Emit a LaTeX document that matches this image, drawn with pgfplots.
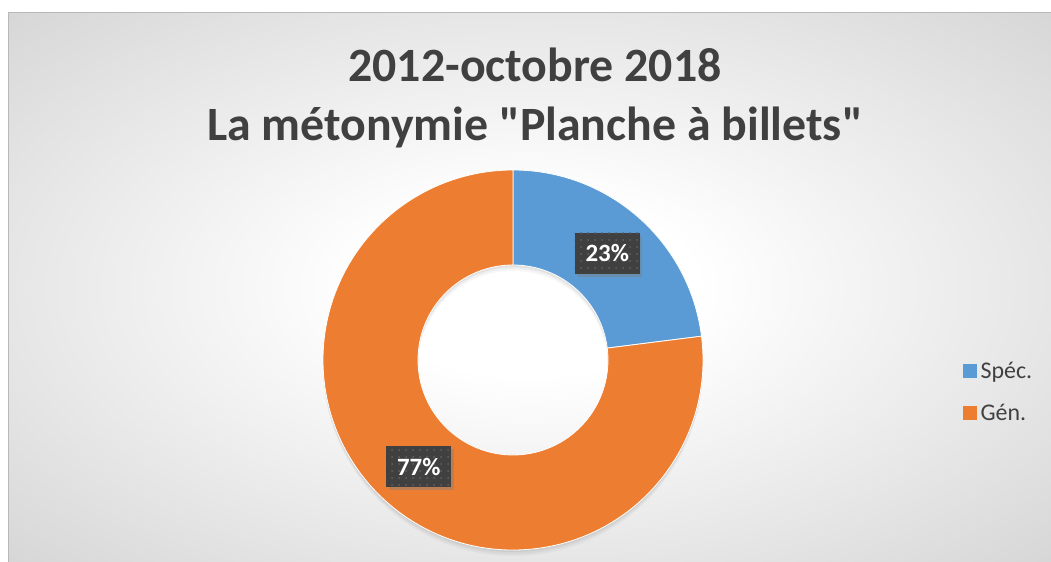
\documentclass[border=0pt]{standalone}
\usepackage{pgfplots}
\pgfplotsset{compat=1.18}
\usepackage{pgfplotstable}
\usepackage{fontspec}
\setmainfont{Carlito}
\usetikzlibrary{calc,shadows,patterns.meta}
\definecolor{cblue}{HTML}{5B9BD5}
\definecolor{corange}{HTML}{ED7D31}
\definecolor{ctext}{HTML}{404040}
\definecolor{clab}{HTML}{404040}
\pgfdeclareradialshading{bgshade}{\pgfpoint{0bp}{0bp}}{color(0bp)=(white); color(8bp)=(white); color(46bp)=(black!22); color(72bp)=(black!25)}

\pgfplotstableread{
label val
Spec 23
Gen 77
}\datatable
\pgfplotstablegetelem{0}{val}\of\datatable \let\va\pgfplotsretval
\pgfplotstablegetelem{1}{val}\of\datatable \let\vb\pgfplotsretval
\pgfmathsetmacro\tot{\va+\vb}
\pgfmathsetmacro\fa{\va/\tot}
\pgfmathsetmacro\fb{\vb/\tot}
\pgfmathsetmacro\aA{90}
\pgfmathsetmacro\aB{90-360*\fa}
\pgfmathsetmacro\aC{\aB-360*\fb}
\pgfmathsetmacro\mA{(\aA+\aB)/2}
\pgfmathsetmacro\mB{(\aB+\aC)/2}
\pgfmathtruncatemacro\pA{round(100*\fa)}
\pgfmathtruncatemacro\pB{round(100*\fb)}
\def\cx{513}\def\cy{202}
\def\Ro{190}\def\Ri{95}\def\Rm{142.5}

\begin{document}%
\begin{tikzpicture}
\begin{axis}[x=1bp,y=1bp,xmin=0,xmax=1051,ymin=0,ymax=562,hide axis,clip=false,
  at={(0,0)},anchor=south west,
  legend style={at={(axis cs:960,170)},anchor=west,draw=none,fill=none,
    font=\fontsize{24}{29}\selectfont,text=ctext,row sep=20bp,
    /tikz/every odd column/.append style={column sep=2bp}},
  legend cell align=left]
\path[fill=white] (axis cs:0,0) rectangle (axis cs:1051,562);
\shade[shading=bgshade] (axis cs:8,0) rectangle (axis cs:1051,549);
\draw[black!28,line width=1bp] (axis cs:8,0) -- (axis cs:8,549) -- (axis cs:1051,549);
\node[align=center,text=ctext,font=\bfseries\fontsize{48}{59}\selectfont] at (axis cs:535,464)
  {2012-octobre 2018\\La métonymie \textquotedbl Planche à billets\textquotedbl};
% donut shadow
\fill[black,opacity=0.05,even odd rule] (axis cs:513,200) circle[radius=190bp] (axis cs:513,200) circle[radius=95bp];
\fill[black,opacity=0.04,even odd rule] (axis cs:513,198) circle[radius=190bp] (axis cs:513,198) circle[radius=95bp];
\fill[black,opacity=0.03,even odd rule] (axis cs:513,196) circle[radius=190bp] (axis cs:513,196) circle[radius=95bp];
% sectors
\fill[cblue,draw=white,line width=0.8bp] (axis cs:\cx,\cy) ++(\aA:\Ro bp) arc[start angle=\aA,end angle=\aB,radius=\Ro bp]
  -- ($(axis cs:\cx,\cy)+(\aB:\Ri bp)$) arc[start angle=\aB,end angle=\aA,radius=\Ri bp] -- cycle;
\fill[corange,draw=white,line width=0.8bp] (axis cs:\cx,\cy) ++(\aB:\Ro bp) arc[start angle=\aB,end angle=\aC,radius=\Ro bp]
  -- ($(axis cs:\cx,\cy)+(\aC:\Ri bp)$) arc[start angle=\aC,end angle=\aB,radius=\Ri bp] -- cycle;
% labels
\node[fill=clab,text=white,minimum width=65bp,minimum height=41bp,inner sep=0pt,
  font=\bfseries\fontsize{25}{29}\selectfont,
  drop shadow={shadow xshift=2.5bp,shadow yshift=-3bp,opacity=0.45},
  postaction={pattern={Dots[distance=7bp,radius=1bp]},pattern color=black!62}]
  at ($(axis cs:\cx,\cy)+(\mA:\Rm bp)$) {\pA\%};
\node[fill=clab,text=white,minimum width=65bp,minimum height=41bp,inner sep=0pt,
  font=\bfseries\fontsize{25}{29}\selectfont,
  drop shadow={shadow xshift=2.5bp,shadow yshift=-3bp,opacity=0.45},
  postaction={pattern={Dots[distance=7bp,radius=1bp]},pattern color=black!62}]
  at ($(axis cs:\cx,\cy)+(\mB:\Rm bp)$) {\pB\%};
\addlegendimage{legend image code/.code={\fill[cblue] (0bp,-6.5bp) rectangle (13bp,6.5bp);}}
\addlegendimage{legend image code/.code={\fill[corange] (0bp,-6.5bp) rectangle (13bp,6.5bp);}}
\legend{Spéc.,Gén.}
\end{axis}
\pgfresetboundingbox
\path[use as bounding box] (0,0) rectangle (1051bp,562bp);
\end{tikzpicture}%
\end{document}
